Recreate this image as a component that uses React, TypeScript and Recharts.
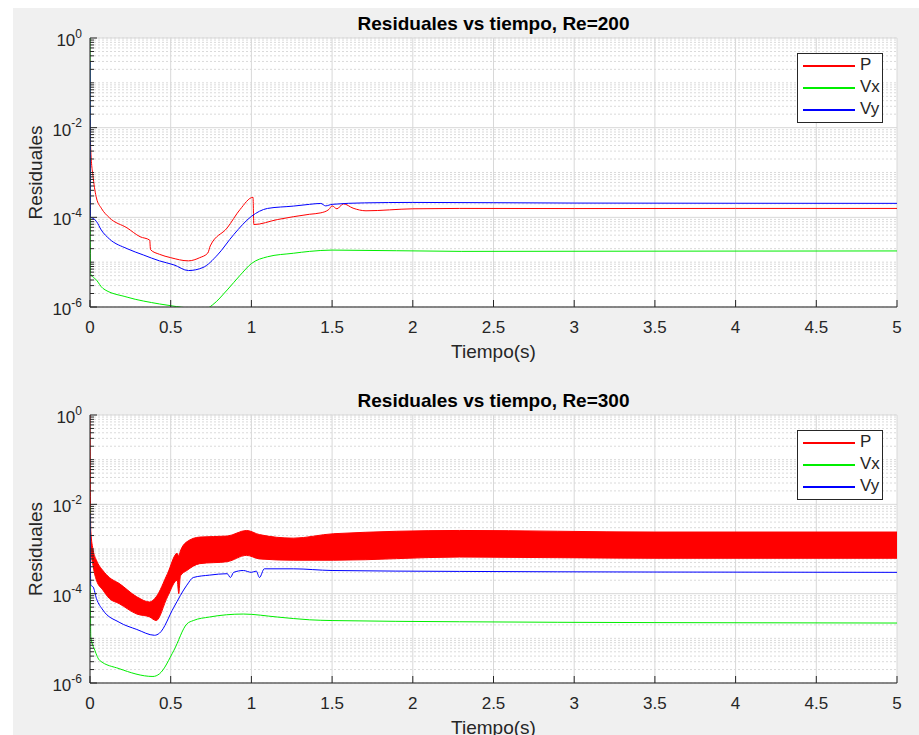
import React from "react";
import {
  Area,
  CartesianGrid,
  ComposedChart,
  Legend,
  Line,
  XAxis,
  YAxis,
} from "recharts";

const FONT = '"Liberation Sans", Arial, Helvetica, sans-serif';
const INK = "#262626";

// tick labels
const xTicks = [0, 0.5, 1, 1.5, 2, 2.5, 3, 3.5, 4, 4.5, 5];
const yMajor = [1e-6, 1e-4, 1e-2, 1];
const yMinor: number[] = [];
for (let e = -6; e < 0; e++) {
  for (let k = 1; k < 10; k++) {
    if (k === 1 && e % 2 === 0) continue;
    yMinor.push(k * Math.pow(10, e));
  }
}
const yAll = [...yMajor, ...yMinor].sort((a, b) => a - b);

// legend
const seriesNames = ["P", "Vx", "Vy"];
const seriesColors = ["#ff0000", "#00ee00", "#0000ff"];

// Re=200
const re200PTime = [0, 0.005, 0.02, 0.04, 0.07, 0.12, 0.23, 0.31, 0.37, 0.375, 0.43, 0.5, 0.61, 0.68, 0.73, 0.745, 0.85, 0.93, 1.01, 1.015, 1.16, 1.36, 1.43, 1.48, 1.5, 1.53, 1.57, 1.63, 1.71, 2.0, 2.29, 3.0, 4.0, 5.0];
const re200P = [1.5e-2, 3e-3, 7.6e-4, 2.7e-4, 1.6e-4, 9.8e-5, 5.8e-5, 3.7e-5, 3.1e-5, 1.9e-5, 1.5e-5, 1.26e-5, 1.07e-5, 1.26e-5, 1.6e-5, 2.3e-5, 5.8e-5, 1.5e-4, 2.8e-4, 6.9e-5, 8.9e-5, 1.17e-4, 1.26e-4, 1.5e-4, 1.8e-4, 1.55e-4, 2.0e-4, 1.6e-4, 1.4e-4, 1.55e-4, 1.58e-4, 1.57e-4, 1.58e-4, 1.58e-4];

const re200VxTime = [0, 0.003, 0.04, 0.08, 0.23, 0.43, 0.64, 0.7, 0.76, 0.85, 0.93, 1.0, 1.1, 1.26, 1.36, 1.5, 2.3, 3.5, 5.0];
const re200Vx = [1.0, 5.5e-6, 4.0e-6, 2.6e-6, 1.66e-6, 1.17e-6, 9.1e-7, 8.5e-7, 1.12e-6, 2.4e-6, 5.1e-6, 9.3e-6, 1.32e-5, 1.58e-5, 1.74e-5, 1.86e-5, 1.74e-5, 1.76e-5, 1.78e-5];

const re200VyTime = [0, 0.003, 0.02, 0.04, 0.07, 0.12, 0.23, 0.33, 0.43, 0.52, 0.61, 0.7, 0.79, 0.89, 1.0, 1.1, 1.26, 1.36, 1.43, 1.46, 1.5, 1.7, 2.0, 3.0, 4.0, 5.0];
const re200Vy = [0.3, 1.0e-4, 9.5e-5, 8.1e-5, 5.2e-5, 3.3e-5, 2.0e-5, 1.45e-5, 1.07e-5, 8.7e-6, 6.5e-6, 7.6e-6, 1.45e-5, 4.1e-5, 1.05e-4, 1.58e-4, 1.78e-4, 1.95e-4, 2.04e-4, 1.8e-4, 1.95e-4, 2.1e-4, 2.15e-4, 2.08e-4, 2.06e-4, 2.05e-4];

// Re=300 (P is a noisy band: low / high envelope)
const re300PTime = [0, 0.005, 0.02, 0.04, 0.08, 0.12, 0.18, 0.29, 0.37, 0.41, 0.48, 0.54, 0.55, 0.56, 0.6, 0.68, 0.85, 0.97, 1.05, 1.26, 1.51, 2.29, 3.5, 5.0];
const re300PLow = [1e-2, 1.1e-3, 4.0e-4, 2.0e-4, 1.2e-4, 7.8e-5, 6.0e-5, 3.5e-5, 3.0e-5, 2.5e-5, 8.5e-5, 2.0e-4, 1.0e-4, 2.5e-4, 3.3e-4, 4.7e-4, 5.2e-4, 7.2e-4, 6.0e-4, 5.6e-4, 5.6e-4, 6.6e-4, 6.2e-4, 6.2e-4];
const re300PHigh = [1, 2.5e-3, 9.3e-4, 5.6e-4, 3.3e-4, 2.3e-4, 1.7e-4, 8.5e-5, 6.5e-5, 8.5e-5, 2.8e-4, 8.0e-4, 7.0e-4, 9.0e-4, 1.45e-3, 1.85e-3, 1.95e-3, 2.6e-3, 2.1e-3, 1.75e-3, 2.2e-3, 2.6e-3, 2.4e-3, 2.4e-3];

const re300VxTime = [0, 0.005, 0.03, 0.06, 0.18, 0.39, 0.43, 0.52, 0.6, 0.64, 0.74, 0.95, 1.16, 1.36, 1.5, 2.29, 3.5, 5.0];
const re300Vx = [8.7e-3, 1.07e-5, 5.4e-6, 3.2e-6, 2.1e-6, 1.4e-6, 1.6e-6, 5.4e-6, 2.1e-5, 2.5e-5, 3.0e-5, 3.5e-5, 3.0e-5, 2.6e-5, 2.5e-5, 2.35e-5, 2.25e-5, 2.2e-5];

const re300VyTime = [0, 0.005, 0.02, 0.04, 0.08, 0.18, 0.29, 0.4, 0.43, 0.52, 0.6, 0.64, 0.74, 0.85, 0.87, 0.89, 0.95, 1.0, 1.03, 1.05, 1.08, 1.26, 1.5, 2.29, 3.5, 5.0];
const re300Vy = [6.3e-3, 1.55e-4, 1.4e-4, 7.8e-5, 4.3e-5, 2.3e-5, 1.58e-5, 1.17e-5, 1.3e-5, 5.0e-5, 1.55e-4, 2.3e-4, 2.6e-4, 2.8e-4, 2.3e-4, 3.0e-4, 3.3e-4, 3.0e-4, 3.2e-4, 2.3e-4, 3.6e-4, 3.6e-4, 3.3e-4, 3.15e-4, 3.05e-4, 3.0e-4];

const pts = (t: number[], v: number[]) => t.map((x, i) => ({ t: x, v: v[i] }));
const band = (t: number[], lo: number[], hi: number[]) =>
  t.map((x, i) => ({ t: x, lo: lo[i], hi: hi[i] }));

const isMajor = (v: number) => yMajor.some((m) => Math.abs(v - m) / m < 1e-6);

const XTick = (p: any) => (
  <g>
    <line x1={p.x} x2={p.x} y1={p.y} y2={p.y - 7} stroke={INK} />
    <text x={p.x} y={p.y + 26} textAnchor="middle" fontSize={17} fill={INK} fontFamily={FONT}>
      {p.payload.value}
    </text>
  </g>
);

const TopTick = (p: any) => <line x1={p.x} x2={p.x} y1={p.y} y2={p.y + 7} stroke={INK} />;

const LeftTick = (p: any) => {
  const v = p.payload.value;
  const major = isMajor(v);
  return (
    <g>
      <line x1={p.x} x2={p.x + (major ? 7 : 4)} y1={p.y} y2={p.y} stroke={INK} />
      {major && (
        <text x={p.x - 8} y={p.y} textAnchor="end" fill={INK} fontFamily={FONT} fontSize={17}>
          <tspan dy={8}>10</tspan>
          <tspan dy={-8.5} fontSize={12}>
            {Math.round(Math.log10(v))}
          </tspan>
        </text>
      )}
    </g>
  );
};

const RightTick = (p: any) => {
  const major = isMajor(p.payload.value);
  return <line x1={p.x} x2={p.x - (major ? 7 : 4)} y1={p.y} y2={p.y} stroke={INK} />;
};

const LegendBox = () => (
  <div
    style={{
      position: "relative",
      width: 86,
      height: 70,
      boxSizing: "border-box",
      border: `1px solid ${INK}`,
      background: "#fff",
      fontFamily: FONT,
      fontSize: 17,
      color: INK,
    }}
  >
    {seriesNames.map((name, i) => (
      <React.Fragment key={name}>
        <div
          style={{
            position: "absolute",
            left: 5,
            top: 11 + i * 22,
            width: 52,
            height: 2,
            background: seriesColors[i],
          }}
        />
        <div style={{ position: "absolute", left: 62, top: 1 + i * 22, lineHeight: "20px" }}>{name}</div>
      </React.Fragment>
    ))}
  </div>
);

function Panel({
  title,
  top,
  height,
  plotTop,
  axisHeight,
  children,
}: {
  title: string;
  top: number;
  height: number;
  plotTop: number;
  axisHeight: number;
  children: React.ReactNode;
}) {
  return (
    <div style={{ position: "absolute", left: 0, top, width: 919, height }}>
      <div
        style={{
          position: "absolute",
          left: 90,
          width: 807,
          top: plotTop - 24,
          height: 20,
          lineHeight: "20px",
          textAlign: "center",
          fontFamily: FONT,
          fontWeight: "bold",
          fontSize: 19,
          color: "#000",
        }}
      >
        {title}
      </div>
      <ComposedChart width={919} height={height} margin={{ top: plotTop, right: 22, bottom: 0, left: 0 }}>
        <CartesianGrid xAxisId="x" yAxisId="minor" vertical={false} fill="#fff" stroke="#dadada" strokeDasharray="2 2" />
        <CartesianGrid xAxisId="x" yAxisId="major" stroke="#d8d8d8" />
        <XAxis
          xAxisId="x"
          dataKey="t"
          type="number"
          domain={[0, 5]}
          ticks={xTicks}
          interval={0}
          height={axisHeight}
          tickSize={0}
          tickMargin={0}
          tickLine={false}
          tick={XTick}
          axisLine={{ stroke: INK }}
          allowDataOverflow
          label={(lp: any) => {
            const vb = lp.viewBox;
            return (
              <text x={vb.x + vb.width / 2} y={vb.y + 51} textAnchor="middle" fontSize={19} fill={INK} fontFamily={FONT}>
                Tiempo(s)
              </text>
            );
          }}
        />
        <XAxis
          xAxisId="top"
          orientation="top"
          type="number"
          domain={[0, 5]}
          ticks={xTicks}
          interval={0}
          height={0}
          tickSize={0}
          tickMargin={0}
          tickLine={false}
          tick={TopTick}
          axisLine={{ stroke: INK }}
        />
        <YAxis
          yAxisId="y"
          type="number"
          scale="log"
          domain={[1e-6, 1]}
          ticks={yAll}
          interval={0}
          width={90}
          tickSize={0}
          tickMargin={0}
          tickLine={false}
          tick={LeftTick}
          axisLine={{ stroke: INK }}
          allowDataOverflow
          label={(lp: any) => {
            const vb = lp.viewBox;
            const cy = vb.y + vb.height / 2;
            return (
              <text x={41.5} y={cy} transform={`rotate(-90, 41.5, ${cy})`} textAnchor="middle" fontSize={19} fill={INK} fontFamily={FONT}>
                Residuales
              </text>
            );
          }}
        />
        <YAxis
          yAxisId="right"
          orientation="right"
          type="number"
          scale="log"
          domain={[1e-6, 1]}
          ticks={yAll}
          interval={0}
          width={0}
          tickSize={0}
          tickMargin={0}
          tickLine={false}
          tick={RightTick}
          axisLine={{ stroke: INK }}
          allowDataOverflow
        />
        <YAxis yAxisId="major" orientation="right" width={0} hide type="number" scale="log" domain={[1e-6, 1]} ticks={yMajor} interval={0} allowDataOverflow />
        <YAxis yAxisId="minor" orientation="right" width={0} hide type="number" scale="log" domain={[1e-6, 1]} ticks={yMinor} interval={0} allowDataOverflow />
        {children}
        <Legend
          layout="horizontal"
          verticalAlign="middle"
          align="center"
          content={LegendBox}
          wrapperStyle={{ position: "absolute", left: 797, top: plotTop + 15, width: 86, height: 70 }}
        />
      </ComposedChart>
    </div>
  );
}

export default function App() {
  return (
    <div style={{ position: "absolute", left: 0, top: 0, width: 919, height: 735, background: "#fff", overflow: "hidden" }}>
      <div style={{ position: "absolute", left: 13, top: 8, width: 906, height: 727, background: "#f0f0f0" }} />
      <Panel title="Residuales vs tiempo, Re=200" top={0} height={368} plotTop={38} axisHeight={61}>
        <Line xAxisId="x" yAxisId="y" type="monotone" data={pts(re200PTime, re200P)} dataKey="v" name="P" stroke={seriesColors[0]} strokeWidth={1} dot={false} isAnimationActive={false} />
        <Line xAxisId="x" yAxisId="y" type="monotone" data={pts(re200VxTime, re200Vx)} dataKey="v" name="Vx" stroke={seriesColors[1]} strokeWidth={1} dot={false} isAnimationActive={false} />
        <Line xAxisId="x" yAxisId="y" type="monotone" data={pts(re200VyTime, re200Vy)} dataKey="v" name="Vy" stroke={seriesColors[2]} strokeWidth={1} dot={false} isAnimationActive={false} />
      </Panel>
      <Panel title="Residuales vs tiempo, Re=300" top={368} height={367} plotTop={47} axisHeight={52}>
        <Area
          xAxisId="x"
          yAxisId="y"
          type="monotone"
          data={band(re300PTime, re300PLow, re300PHigh)}
          dataKey={(d: any) => [d.lo, d.hi]}
          name="P"
          stroke={seriesColors[0]}
          fill={seriesColors[0]}
          fillOpacity={1}
          strokeWidth={1}
          dot={false}
          activeDot={false}
          isAnimationActive={false}
        />
        <Line xAxisId="x" yAxisId="y" type="monotone" data={pts(re300VxTime, re300Vx)} dataKey="v" name="Vx" stroke={seriesColors[1]} strokeWidth={1} dot={false} isAnimationActive={false} />
        <Line xAxisId="x" yAxisId="y" type="monotone" data={pts(re300VyTime, re300Vy)} dataKey="v" name="Vy" stroke={seriesColors[2]} strokeWidth={1} dot={false} isAnimationActive={false} />
      </Panel>
    </div>
  );
}
